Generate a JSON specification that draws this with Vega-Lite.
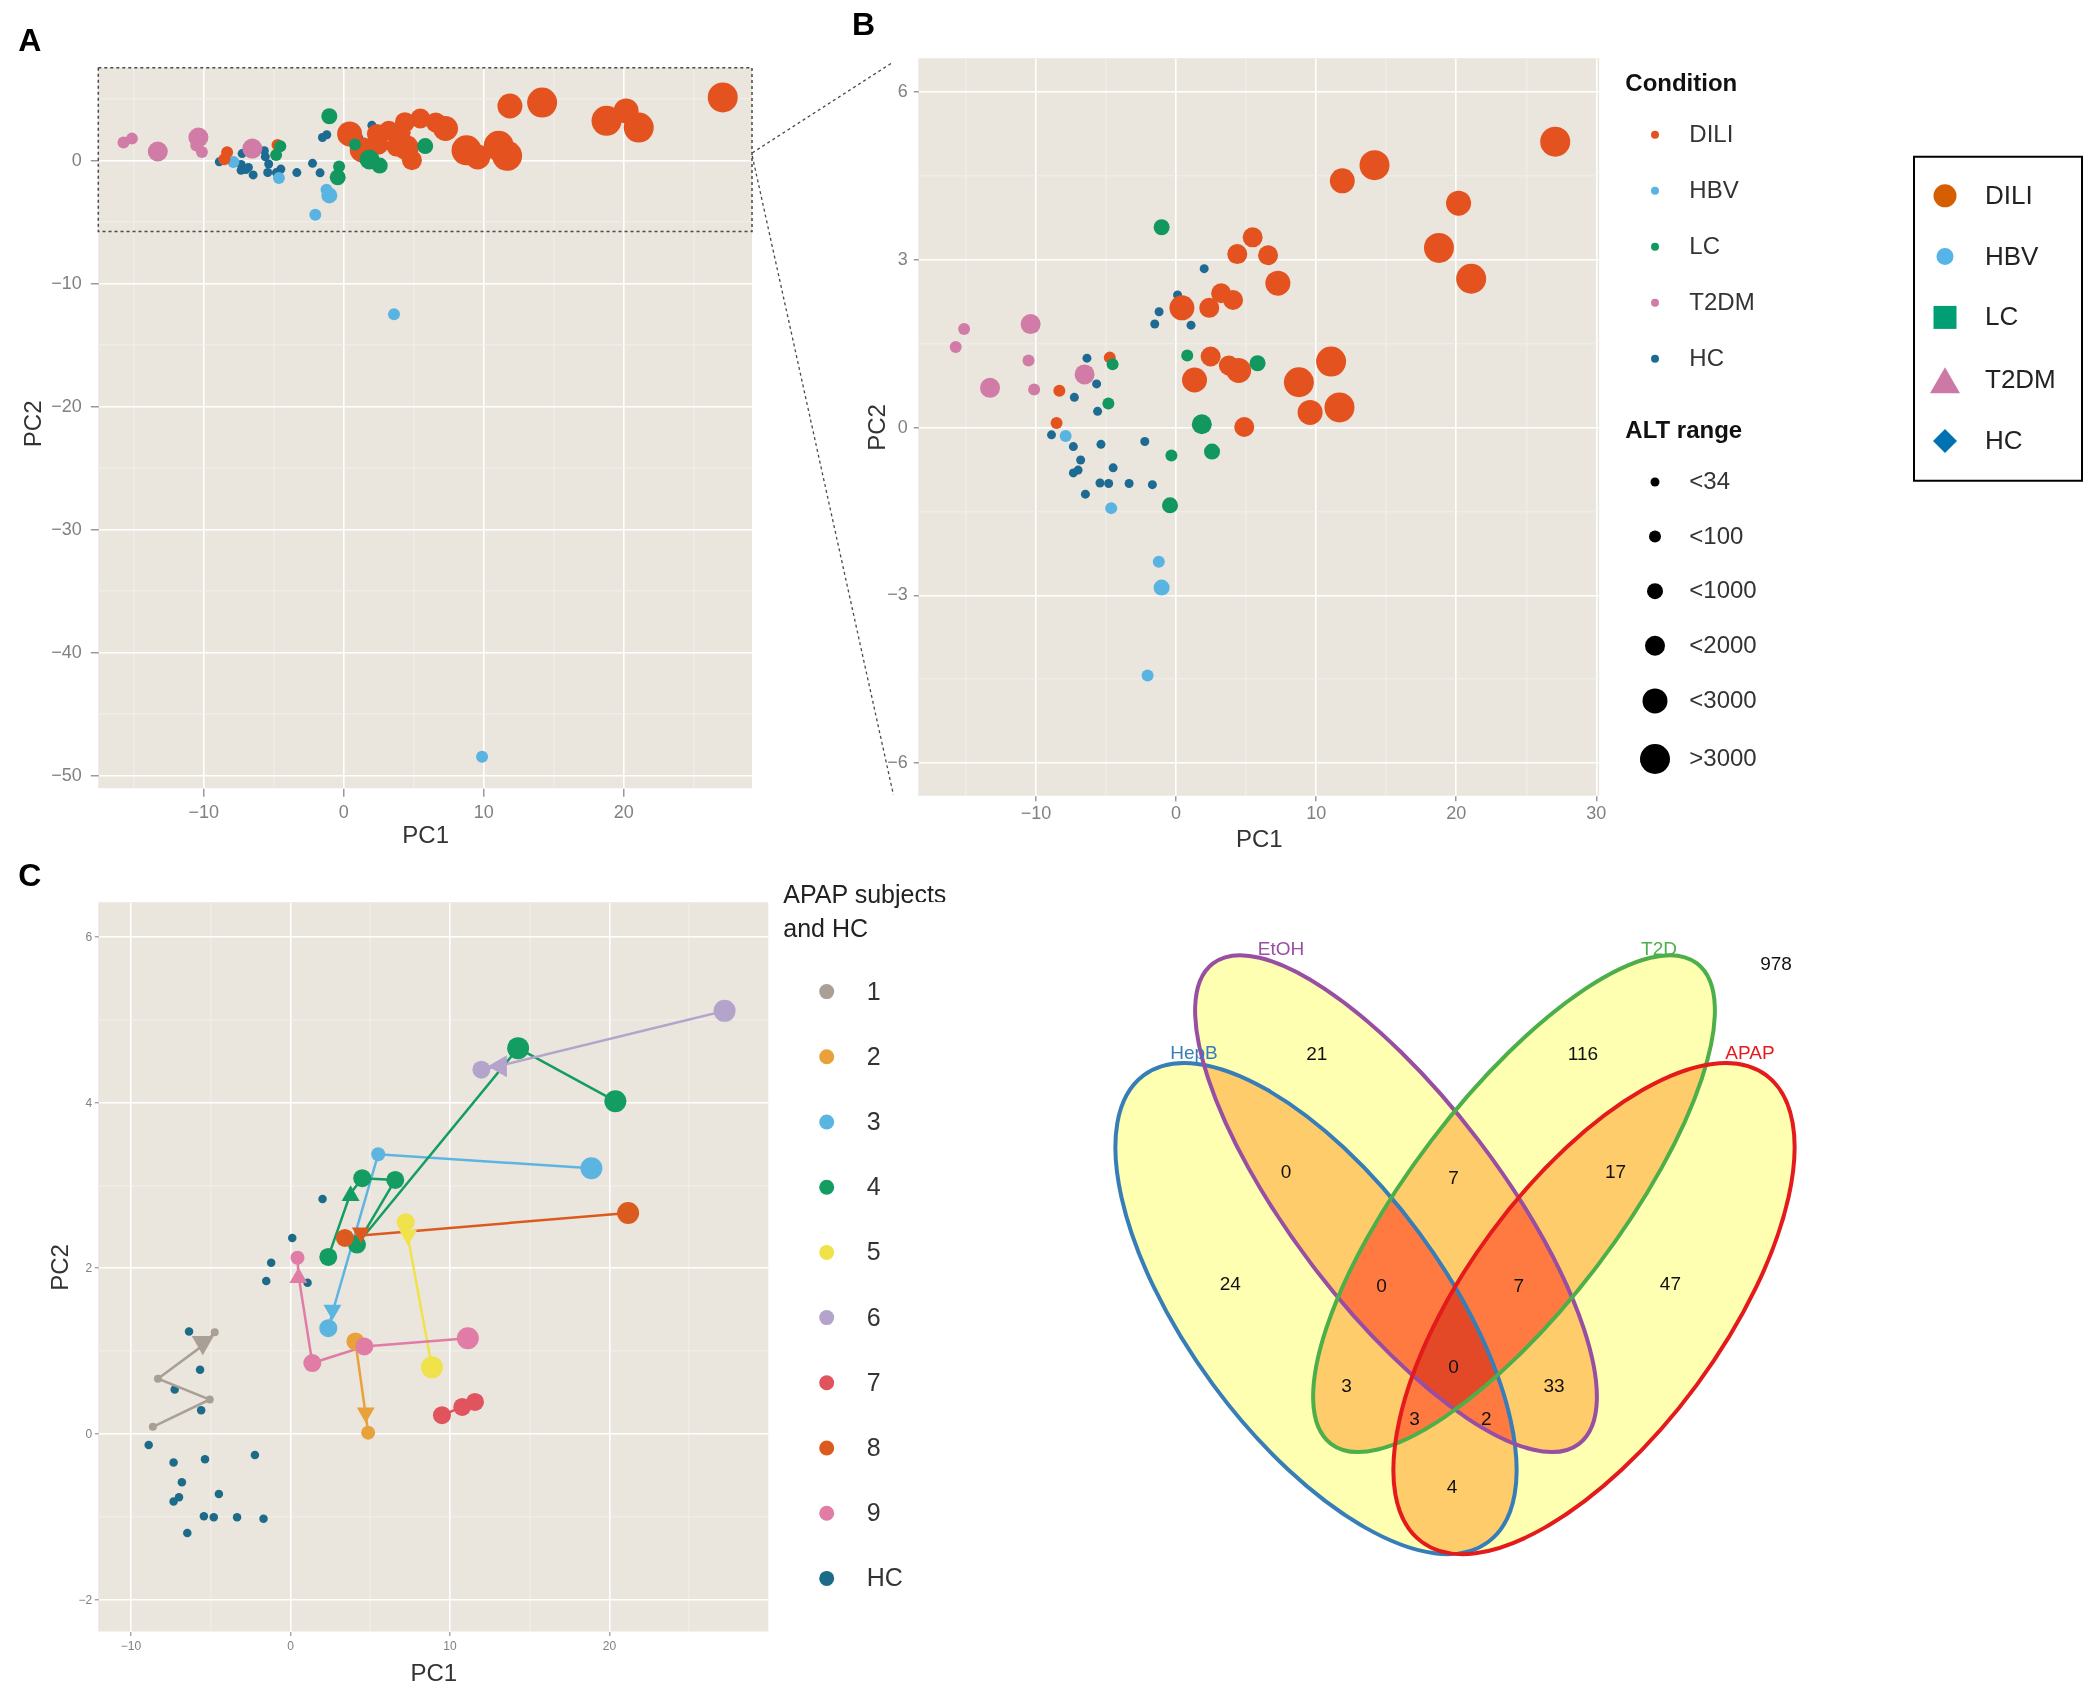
{
  "$schema": "https://vega.github.io/schema/vega-lite/v6.json",
  "autosize": {"type": "none"},
  "padding": {"left": 98.3, "top": 58.3, "right": 1984.7, "bottom": 1629.7},
  "background": "white",
  "config": {
    "font": "Liberation Sans",
    "view": {"stroke": null},
    "axis": {"domain": false, "labelColor": "#808080", "tickColor": "#808080", "titleColor": "#333333", "titleFontWeight": "normal", "labelFont": "Liberation Sans", "titleFont": "Liberation Sans", "labelOverlap": false, "labelFlush": false},
    "legend": {"labelFont": "Liberation Sans", "titleFont": "Liberation Sans", "strokeWidth": 2},
    "title": {"anchor": "start", "frame": "group", "fontSize": 32, "fontWeight": "bold", "baseline": "alphabetic", "color": "#000000", "font": "Liberation Sans"}
  },
  "datasets": {
    "pca": [
      {"x": 2.04, "y": 2.83, "Condition": "HC", "ALT": "<34"},
      {"x": 0.14, "y": 2.36, "Condition": "HC", "ALT": "<34"},
      {"x": -1.18, "y": 2.06, "Condition": "HC", "ALT": "<34"},
      {"x": -1.49, "y": 1.84, "Condition": "HC", "ALT": "<34"},
      {"x": 1.1, "y": 1.82, "Condition": "HC", "ALT": "<34"},
      {"x": -6.33, "y": 1.23, "Condition": "HC", "ALT": "<34"},
      {"x": -5.64, "y": 0.77, "Condition": "HC", "ALT": "<34"},
      {"x": -7.23, "y": 0.53, "Condition": "HC", "ALT": "<34"},
      {"x": -5.57, "y": 0.28, "Condition": "HC", "ALT": "<34"},
      {"x": -8.86, "y": -0.14, "Condition": "HC", "ALT": "<34"},
      {"x": -7.3, "y": -0.35, "Condition": "HC", "ALT": "<34"},
      {"x": -5.33, "y": -0.31, "Condition": "HC", "ALT": "<34"},
      {"x": -6.78, "y": -0.59, "Condition": "HC", "ALT": "<34"},
      {"x": -6.96, "y": -0.77, "Condition": "HC", "ALT": "<34"},
      {"x": -7.3, "y": -0.82, "Condition": "HC", "ALT": "<34"},
      {"x": -4.46, "y": -0.73, "Condition": "HC", "ALT": "<34"},
      {"x": -5.4, "y": -1.0, "Condition": "HC", "ALT": "<34"},
      {"x": -4.78, "y": -1.01, "Condition": "HC", "ALT": "<34"},
      {"x": -3.32, "y": -1.01, "Condition": "HC", "ALT": "<34"},
      {"x": -1.66, "y": -1.03, "Condition": "HC", "ALT": "<34"},
      {"x": -2.2, "y": -0.26, "Condition": "HC", "ALT": "<34"},
      {"x": -6.44, "y": -1.2, "Condition": "HC", "ALT": "<34"},
      {"x": -1.0, "y": -2.87, "Condition": "HBV", "ALT": "<1000"},
      {"x": -1.2, "y": -2.41, "Condition": "HBV", "ALT": "<100"},
      {"x": -2.0, "y": -4.44, "Condition": "HBV", "ALT": "<100"},
      {"x": -4.6, "y": -1.45, "Condition": "HBV", "ALT": "<100"},
      {"x": -7.85, "y": -0.16, "Condition": "HBV", "ALT": "<100"},
      {"x": 3.62, "y": -12.53, "Condition": "HBV", "ALT": "<100"},
      {"x": 9.91, "y": -48.5, "Condition": "HBV", "ALT": "<100"},
      {"x": -13.25, "y": 0.7, "Condition": "T2DM", "ALT": "<2000"},
      {"x": -10.35, "y": 1.84, "Condition": "T2DM", "ALT": "<2000"},
      {"x": -6.5, "y": 0.94, "Condition": "T2DM", "ALT": "<2000"},
      {"x": -15.7, "y": 1.43, "Condition": "T2DM", "ALT": "<100"},
      {"x": -15.1, "y": 1.75, "Condition": "T2DM", "ALT": "<100"},
      {"x": -10.5, "y": 1.19, "Condition": "T2DM", "ALT": "<100"},
      {"x": -10.1, "y": 0.67, "Condition": "T2DM", "ALT": "<100"},
      {"x": 27.1, "y": 5.1, "Condition": "DILI", "ALT": ">3000"},
      {"x": 14.2, "y": 4.68, "Condition": "DILI", "ALT": ">3000"},
      {"x": 11.9, "y": 4.4, "Condition": "DILI", "ALT": "<3000"},
      {"x": 20.2, "y": 4.0, "Condition": "DILI", "ALT": "<3000"},
      {"x": 18.8, "y": 3.2, "Condition": "DILI", "ALT": ">3000"},
      {"x": 21.1, "y": 2.65, "Condition": "DILI", "ALT": ">3000"},
      {"x": 5.5, "y": 3.39, "Condition": "DILI", "ALT": "<2000"},
      {"x": 4.4, "y": 3.09, "Condition": "DILI", "ALT": "<2000"},
      {"x": 6.6, "y": 3.07, "Condition": "DILI", "ALT": "<2000"},
      {"x": 7.3, "y": 2.57, "Condition": "DILI", "ALT": "<3000"},
      {"x": 3.25, "y": 2.39, "Condition": "DILI", "ALT": "<2000"},
      {"x": 4.1, "y": 2.27, "Condition": "DILI", "ALT": "<2000"},
      {"x": 2.4, "y": 2.13, "Condition": "DILI", "ALT": "<2000"},
      {"x": 0.45, "y": 2.13, "Condition": "DILI", "ALT": "<3000"},
      {"x": 2.5, "y": 1.26, "Condition": "DILI", "ALT": "<2000"},
      {"x": 3.8, "y": 1.1, "Condition": "DILI", "ALT": "<2000"},
      {"x": 4.5, "y": 1.01, "Condition": "DILI", "ALT": "<3000"},
      {"x": 1.35, "y": 0.84, "Condition": "DILI", "ALT": "<3000"},
      {"x": 8.8, "y": 0.8, "Condition": "DILI", "ALT": ">3000"},
      {"x": 11.1, "y": 1.17, "Condition": "DILI", "ALT": ">3000"},
      {"x": 9.6, "y": 0.26, "Condition": "DILI", "ALT": "<3000"},
      {"x": 11.7, "y": 0.35, "Condition": "DILI", "ALT": ">3000"},
      {"x": 4.9, "y": 0.0, "Condition": "DILI", "ALT": "<2000"},
      {"x": -8.3, "y": 0.65, "Condition": "DILI", "ALT": "<100"},
      {"x": -8.5, "y": 0.07, "Condition": "DILI", "ALT": "<100"},
      {"x": -4.7, "y": 1.24, "Condition": "DILI", "ALT": "<100"},
      {"x": -1.0, "y": 3.57, "Condition": "LC", "ALT": "<1000"},
      {"x": 0.83, "y": 1.28, "Condition": "LC", "ALT": "<100"},
      {"x": 5.85, "y": 1.14, "Condition": "LC", "ALT": "<1000"},
      {"x": 1.87, "y": 0.05, "Condition": "LC", "ALT": "<2000"},
      {"x": 2.6, "y": -0.44, "Condition": "LC", "ALT": "<1000"},
      {"x": -0.3, "y": -0.51, "Condition": "LC", "ALT": "<100"},
      {"x": -0.4, "y": -1.4, "Condition": "LC", "ALT": "<1000"},
      {"x": -4.5, "y": 1.12, "Condition": "LC", "ALT": "<100"},
      {"x": -4.8, "y": 0.42, "Condition": "LC", "ALT": "<100"}
    ],
    "apap": [
      {"Subject": "1", "seq": 1, "x": -8.6, "y": 0.08, "Sample": "a", "ALT": "<34"},
      {"Subject": "1", "seq": 2, "x": -5.03, "y": 0.41, "Sample": "a", "ALT": "<34"},
      {"Subject": "1", "seq": 3, "x": -8.28, "y": 0.66, "Sample": "a", "ALT": "<34"},
      {"Subject": "1", "seq": 4, "x": -5.47, "y": 1.06, "Sample": "b", "ALT": "<3000"},
      {"Subject": "1", "seq": 5, "x": -4.72, "y": 1.22, "Sample": "a", "ALT": "<34"},
      {"Subject": "2", "seq": 1, "x": 4.1, "y": 1.11, "Sample": "a", "ALT": "<2000"},
      {"Subject": "2", "seq": 2, "x": 4.75, "y": 0.22, "Sample": "b", "ALT": "<2000"},
      {"Subject": "2", "seq": 3, "x": 4.9, "y": 0.01, "Sample": "a", "ALT": "<1000"},
      {"Subject": "3", "seq": 1, "x": 2.4, "y": 1.27, "Sample": "a", "ALT": "<2000"},
      {"Subject": "3", "seq": 2, "x": 2.66, "y": 1.46, "Sample": "b", "ALT": "<2000"},
      {"Subject": "3", "seq": 3, "x": 5.53, "y": 3.37, "Sample": "a", "ALT": "<1000"},
      {"Subject": "3", "seq": 4, "x": 18.9, "y": 3.2, "Sample": "a", "ALT": "<3000"},
      {"Subject": "4", "seq": 1, "x": 2.4, "y": 2.13, "Sample": "a", "ALT": "<2000"},
      {"Subject": "4", "seq": 2, "x": 3.8, "y": 2.9, "Sample": "c", "ALT": "<2000"},
      {"Subject": "4", "seq": 3, "x": 4.53, "y": 3.08, "Sample": "a", "ALT": "<2000"},
      {"Subject": "4", "seq": 4, "x": 6.6, "y": 3.06, "Sample": "a", "ALT": "<2000"},
      {"Subject": "4", "seq": 5, "x": 4.2, "y": 2.28, "Sample": "a", "ALT": "<2000"},
      {"Subject": "4", "seq": 6, "x": 14.3, "y": 4.65, "Sample": "a", "ALT": "<3000"},
      {"Subject": "4", "seq": 7, "x": 20.4, "y": 4.01, "Sample": "a", "ALT": "<3000"},
      {"Subject": "5", "seq": 1, "x": 7.25, "y": 2.55, "Sample": "a", "ALT": "<2000"},
      {"Subject": "5", "seq": 2, "x": 7.4, "y": 2.36, "Sample": "b", "ALT": "<2000"},
      {"Subject": "5", "seq": 3, "x": 8.9, "y": 0.8, "Sample": "a", "ALT": "<3000"},
      {"Subject": "6", "seq": 1, "x": 12.0, "y": 4.39, "Sample": "a", "ALT": "<2000"},
      {"Subject": "6", "seq": 2, "x": 13.0, "y": 4.43, "Sample": "d", "ALT": "<3000"},
      {"Subject": "6", "seq": 3, "x": 27.25, "y": 5.1, "Sample": "a", "ALT": "<3000"},
      {"Subject": "7", "seq": 1, "x": 9.53, "y": 0.22, "Sample": "a", "ALT": "<2000"},
      {"Subject": "7", "seq": 2, "x": 10.8, "y": 0.32, "Sample": "a", "ALT": "<2000"},
      {"Subject": "7", "seq": 3, "x": 11.6, "y": 0.38, "Sample": "a", "ALT": "<2000"},
      {"Subject": "8", "seq": 1, "x": 3.44, "y": 2.36, "Sample": "a", "ALT": "<2000"},
      {"Subject": "8", "seq": 2, "x": 4.44, "y": 2.39, "Sample": "b", "ALT": "<2000"},
      {"Subject": "8", "seq": 3, "x": 21.2, "y": 2.66, "Sample": "a", "ALT": "<3000"},
      {"Subject": "9", "seq": 1, "x": 0.47, "y": 2.12, "Sample": "a", "ALT": "<1000"},
      {"Subject": "9", "seq": 2, "x": 0.53, "y": 1.91, "Sample": "c", "ALT": "<2000"},
      {"Subject": "9", "seq": 3, "x": 1.4, "y": 0.85, "Sample": "a", "ALT": "<2000"},
      {"Subject": "9", "seq": 4, "x": 4.66, "y": 1.05, "Sample": "a", "ALT": "<2000"},
      {"Subject": "9", "seq": 5, "x": 11.15, "y": 1.15, "Sample": "a", "ALT": "<3000"}
    ],
    "venn": [
      {"set": "HepB", "u": 397.7, "v": 406.3},
      {"set": "EtOH", "u": 477.7, "v": 301.3},
      {"set": "T2D", "u": 595.7, "v": 301.3},
      {"set": "APAP", "u": 675.7, "v": 406.3}
    ],
    "vennLabels": [
      {"set": "EtOH", "u": 362.7, "v": 46.3},
      {"set": "T2D", "u": 740.7, "v": 46.3},
      {"set": "HepB", "u": 275.7, "v": 150.9},
      {"set": "APAP", "u": 831.7, "v": 150.9}
    ],
    "vennCounts": [
      {"n": "978", "u": 857.7, "v": 61.3},
      {"n": "21", "u": 398.4, "v": 151.6},
      {"n": "116", "u": 664.7, "v": 151.6},
      {"n": "0", "u": 367.7, "v": 269.3},
      {"n": "7", "u": 535.3, "v": 275.8},
      {"n": "17", "u": 697.3, "v": 269.3},
      {"n": "24", "u": 312.0, "v": 382.1},
      {"n": "0", "u": 463.2, "v": 383.3},
      {"n": "7", "u": 600.4, "v": 383.3},
      {"n": "47", "u": 752.1, "v": 382.1},
      {"n": "0", "u": 535.3, "v": 464.3},
      {"n": "3", "u": 428.3, "v": 484.0},
      {"n": "33", "u": 635.7, "v": 484.0},
      {"n": "3", "u": 496.2, "v": 516.5},
      {"n": "2", "u": 567.9, "v": 516.5},
      {"n": "4", "u": 533.7, "v": 585.0}
    ]
  },
  "columns": 2,
  "align": "each",
  "bounds": "flush",
  "spacing": {"row": 106, "column": 150},
  "resolve": {
    "scale": {"color": "independent", "size": "independent", "shape": "independent", "fill": "independent", "stroke": "independent"},
    "legend": {"color": "independent", "size": "independent", "shape": "independent", "fill": "independent", "stroke": "independent"}
  },
  "concat": [
    {
      "width": 653.7,
      "height": 730,
      "view": {"fill": "#EAE6DE", "stroke": null},
      "title": {"text": "A", "dx": -80, "offset": 0.5},
      "layer": [
        {
          "data": {"name": "pca"},
          "mark": {"type": "circle", "opacity": 1, "strokeWidth": 0},
          "encoding": {
            "x": {"field": "x", "type": "quantitative", "scale": {"domain": [-17.5, 29.19], "nice": false, "zero": false},
              "axis": {"title": "PC1", "values": [-15, -10, -5, 0, 5, 10, 15, 20, 25], "labelExpr": "datum.value % 10 === 0 ? datum.label : ''",
                "gridColor": {"condition": {"test": "datum.value % 10 === 0", "value": "#FFFFFF"}, "value": "#F4F2EE"},
                "gridWidth": {"condition": {"test": "datum.value % 10 === 0", "value": 1.6}, "value": 0.9},
                "tickColor": {"condition": {"test": "datum.value % 10 === 0", "value": "#808080"}, "value": "rgba(0,0,0,0)"},
                "tickSize": 8, "tickWidth": 1.2, "labelPadding": 7, "labelFontSize": 18, "titleFontSize": 24, "titlePadding": 2}},
            "y": {"field": "y", "type": "quantitative", "scale": {"domain": [-51.07, 8.28], "nice": false, "zero": false},
              "axis": {"title": "PC2", "values": [-50, -45, -40, -35, -30, -25, -20, -15, -10, -5, 0, 5], "labelExpr": "datum.value % 10 === 0 ? datum.label : ''",
                "gridColor": {"condition": {"test": "datum.value % 10 === 0", "value": "#FFFFFF"}, "value": "#F4F2EE"},
                "gridWidth": {"condition": {"test": "datum.value % 10 === 0", "value": 1.6}, "value": 0.9},
                "tickColor": {"condition": {"test": "datum.value % 10 === 0", "value": "#808080"}, "value": "rgba(0,0,0,0)"},
                "tickSize": 8, "tickWidth": 1.2, "labelPadding": 9, "labelFontSize": 18, "titleFontSize": 24, "titlePadding": 5}},
            "color": {"field": "Condition", "type": "nominal", "scale": {"domain": ["DILI", "HBV", "LC", "T2DM", "HC"], "range": ["#E4531F", "#5AB4E1", "#12975F", "#D07CA6", "#1D6A92"]}, "legend": null},
            "size": {"field": "ALT", "type": "ordinal", "scale": {"type": "ordinal", "domain": ["<34", "<100", "<1000", "<2000", "<3000", ">3000"], "range": [81, 144, 256, 400, 625, 900]}, "legend": null}
          }
        },
        {
          "data": {"values": [{}]},
          "mark": {"type": "rect", "color": "white"},
          "encoding": {
            "x": {"datum": -17.6, "type": "quantitative"},
            "x2": {"datum": 29.3},
            "y": {"datum": 7.52, "type": "quantitative"},
            "y2": {"datum": 8.3}
          }
        },
        {
          "data": {"values": [{"x1": -17.5, "x2": 29.19, "y1": -5.8, "y2": 7.52}]},
          "mark": {"type": "rect", "fillOpacity": 0, "stroke": "#4A4A4A", "strokeWidth": 1.5, "strokeDash": [3, 3]},
          "encoding": {
            "x": {"field": "x1", "type": "quantitative"},
            "x2": {"field": "x2"},
            "y": {"field": "y1", "type": "quantitative"},
            "y2": {"field": "y2"}
          }
        },
        {
          "data": {"values": [{"x1": 29.21, "y1": 0.59, "x2": 39.29, "y2": 7.98}, {"x1": 29.21, "y1": 0.34, "x2": 39.29, "y2": -51.6}]},
          "mark": {"type": "rule", "color": "#4A4A4A", "strokeWidth": 1.3, "strokeDash": [3, 3], "clip": false},
          "encoding": {
            "x": {"field": "x1", "type": "quantitative"},
            "x2": {"field": "x2"},
            "y": {"field": "y1", "type": "quantitative"},
            "y2": {"field": "y2"}
          }
        }
      ]
    },
    {
      "width": 680.9,
      "height": 737.4,
      "view": {"fill": "#EAE6DE", "stroke": null},
      "title": {"text": "B", "dx": -66.3, "offset": 16.8},
      "resolve": {
        "scale": {"color": "independent", "size": "independent", "shape": "independent", "fill": "independent"},
        "legend": {"color": "independent", "size": "independent", "shape": "independent", "fill": "independent"}
      },
      "layer": [
        {
          "data": {"name": "pca"},
          "mark": {"type": "circle", "opacity": 1, "strokeWidth": 0, "clip": true},
          "encoding": {
            "x": {"field": "x", "type": "quantitative", "scale": {"domain": [-18.37, 30.24], "nice": false, "zero": false},
              "axis": {"title": "PC1", "values": [-15, -10, -5, 0, 5, 10, 15, 20, 25, 30], "labelExpr": "datum.value % 10 === 0 ? datum.label : ''",
                "gridColor": {"condition": {"test": "datum.value % 10 === 0", "value": "#FFFFFF"}, "value": "#F4F2EE"},
                "gridWidth": {"condition": {"test": "datum.value % 10 === 0", "value": 1.6}, "value": 0.9},
                "tickColor": {"condition": {"test": "datum.value % 10 === 0", "value": "#808080"}, "value": "rgba(0,0,0,0)"},
                "tickSize": 5, "tickWidth": 1.2, "labelPadding": 4, "labelFontSize": 18, "titleFontSize": 24, "titlePadding": 5}},
            "y": {"field": "y", "type": "quantitative", "scale": {"domain": [-6.59, 6.59], "nice": false, "zero": false},
              "axis": {"title": "PC2", "values": [-6, -4.5, -3, -1.5, 0, 1.5, 3, 4.5, 6], "labelExpr": "datum.value % 3 === 0 ? datum.label : ''",
                "gridColor": {"condition": {"test": "datum.value % 3 === 0", "value": "#FFFFFF"}, "value": "#F4F2EE"},
                "gridWidth": {"condition": {"test": "datum.value % 3 === 0", "value": 1.6}, "value": 0.9},
                "tickColor": {"condition": {"test": "datum.value % 3 === 0", "value": "#808080"}, "value": "rgba(0,0,0,0)"},
                "tickSize": 5, "tickWidth": 1.2, "labelPadding": 6, "labelFontSize": 18, "titleFontSize": 24, "titlePadding": -3}},
            "color": {"field": "Condition", "type": "nominal", "scale": {"domain": ["DILI", "HBV", "LC", "T2DM", "HC"], "range": ["#E4531F", "#5AB4E1", "#12975F", "#D07CA6", "#1D6A92"]},
              "legend": {"title": "Condition", "orient": "none", "legendX": 707, "legendY": 13.5, "padding": 0, "symbolType": "circle", "symbolSize": 64, "symbolStrokeWidth": 0,
                "titleFontSize": 24, "titleFontWeight": "bold", "titleColor": "#111111", "titlePadding": 27, "labelFontSize": 24, "labelColor": "#333333",
                "rowPadding": 32, "symbolOffset": 17.7, "labelOffset": 22.3}},
            "size": {"field": "ALT", "type": "ordinal", "scale": {"type": "ordinal", "domain": ["<34", "<100", "<1000", "<2000", "<3000", ">3000"], "range": [81, 144, 256, 400, 625, 900]},
              "legend": {"title": "ALT range", "orient": "none", "legendX": 707, "legendY": 360.7, "padding": 0, "symbolType": "circle", "symbolFillColor": "#000000", "symbolStrokeWidth": 0,
                "titleFontSize": 24, "titleFontWeight": "bold", "titleColor": "#111111", "titlePadding": 27, "labelFontSize": 24, "labelColor": "#333333",
                "rowPadding": 30.6, "symbolOffset": 14.7, "labelOffset": 19.3}}
          }
        },
        {
          "data": {"values": []},
          "mark": {"type": "point", "filled": true, "opacity": 1},
          "encoding": {
            "fill": {"field": "Group", "type": "nominal", "scale": {"domain": ["DILI", "HBV", "LC", "T2DM", "HC"], "range": ["#D55E00", "#56B4E9", "#009E73", "#CC79A7", "#0072B2"]},
              "legend": {"title": null, "orient": "none", "legendX": 995.7, "legendY": 98.5, "padding": 26, "strokeColor": "#000000", "symbolStrokeWidth": 0,
                "labelFontSize": 26, "labelColor": "#222222", "rowPadding": 34.8, "symbolOffset": -10, "labelOffset": 25}},
            "shape": {"field": "Group", "type": "nominal", "scale": {"domain": ["DILI", "HBV", "LC", "T2DM", "HC"], "range": ["circle", "circle", "square", "triangle-up", "diamond"]}},
            "size": {"field": "Group", "type": "nominal", "scale": {"type": "ordinal", "domain": ["DILI", "HBV", "LC", "T2DM", "HC"], "range": [529, 289, 529, 900, 576]}}
          }
        }
      ]
    },
    {
      "width": 670,
      "height": 729.2,
      "view": {"fill": "#EAE6DE", "stroke": null},
      "title": {"text": "C", "dx": -80, "offset": -9.7},
      "layer": [
        {
          "data": {"name": "pca"},
          "transform": [{"filter": "datum.Condition === 'HC'"}],
          "mark": {"type": "circle", "opacity": 1, "size": 72, "color": "#1C6B88"},
          "encoding": {
            "x": {"field": "x", "type": "quantitative", "scale": {"domain": [-12.02, 29.99], "nice": false, "zero": false},
              "axis": {"title": "PC1", "values": [-10, -5, 0, 5, 10, 15, 20, 25], "format": "d", "labelExpr": "datum.value % 10 === 0 ? datum.label : ''",
                "gridColor": {"condition": {"test": "datum.value % 10 === 0", "value": "#FFFFFF"}, "value": "#F4F2EE"},
                "gridWidth": {"condition": {"test": "datum.value % 10 === 0", "value": 1.5}, "value": 0.8},
                "tickColor": {"condition": {"test": "datum.value % 10 === 0", "value": "#808080"}, "value": "rgba(0,0,0,0)"},
                "tickSize": 4, "tickWidth": 1, "labelPadding": 5, "labelFontSize": 12, "titleFontSize": 24, "titlePadding": 10}},
            "y": {"field": "y", "type": "quantitative", "scale": {"domain": [-2.39, 6.41], "nice": false, "zero": false},
              "axis": {"title": "PC2", "values": [-2, -1, 0, 1, 2, 3, 4, 5, 6], "format": "d", "labelExpr": "datum.value % 2 === 0 ? datum.label : ''",
                "gridColor": {"condition": {"test": "datum.value % 2 === 0", "value": "#FFFFFF"}, "value": "#F4F2EE"},
                "gridWidth": {"condition": {"test": "datum.value % 2 === 0", "value": 1.5}, "value": 0.8},
                "tickColor": {"condition": {"test": "datum.value % 2 === 0", "value": "#808080"}, "value": "rgba(0,0,0,0)"},
                "tickSize": 4, "tickWidth": 1, "labelPadding": 2.5, "labelFontSize": 12, "titleFontSize": 24, "titlePadding": 6}}
          }
        },
        {
          "data": {"name": "apap"},
          "mark": {"type": "line", "strokeWidth": 2.5, "opacity": 1},
          "encoding": {
            "x": {"field": "x", "type": "quantitative"},
            "y": {"field": "y", "type": "quantitative"},
            "order": {"field": "seq", "type": "quantitative"},
            "stroke": {"field": "Subject", "type": "nominal", "legend": null,
              "scale": {"domain": ["1", "2", "3", "4", "5", "6", "7", "8", "9"], "range": ["#A99F95", "#E9A23B", "#5CB5E1", "#139D62", "#EFE24A", "#B4A4CB", "#E1545D", "#DB5B1F", "#E07CA6"]}}
          }
        },
        {
          "data": {"name": "apap"},
          "mark": {"type": "point", "filled": true, "opacity": 1, "strokeWidth": 0},
          "encoding": {
            "x": {"field": "x", "type": "quantitative"},
            "y": {"field": "y", "type": "quantitative"},
            "color": {"field": "Subject", "type": "nominal",
              "scale": {"domain": ["1", "2", "3", "4", "5", "6", "7", "8", "9", "HC"], "range": ["#A99F95", "#E9A23B", "#5CB5E1", "#139D62", "#EFE24A", "#B4A4CB", "#E1545D", "#DB5B1F", "#E07CA6", "#1C6B88"]},
              "legend": {"title": ["APAP subjects", "and HC"], "orient": "none", "legendX": 685, "legendY": -19.2, "padding": 0, "symbolType": "circle", "symbolSize": 225, "symbolStrokeWidth": 0,
                "titleFontSize": 25, "titleFontWeight": "normal", "titleColor": "#222222", "titleLineHeight": 34, "titlePadding": 37, "labelFontSize": 25, "labelColor": "#333333",
                "rowPadding": 39.2, "symbolOffset": 30.9, "labelOffset": 27.5}},
            "shape": {"field": "Sample", "type": "nominal", "scale": {"domain": ["a", "b", "c", "d"], "range": ["circle", "triangle-down", "triangle-up", "triangle-left"]}, "legend": null},
            "size": {"field": "ALT", "type": "ordinal", "scale": {"type": "ordinal", "domain": ["<34", "<100", "<1000", "<2000", "<3000", ">3000"], "range": [64, 100, 196, 324, 484, 676]}, "legend": null}
          }
        }
      ]
    },
    {
      "width": 900,
      "height": 700,
      "view": {"fill": null, "stroke": null},
      "layer": [
        {
          "data": {"values": [{}]},
          "mark": {"type": "rect", "color": "#FFFFFF"},
          "encoding": {
            "x": {"datum": 0, "type": "quantitative", "scale": {"domain": [0, 900], "nice": false, "zero": false}, "axis": null},
            "x2": {"datum": 900},
            "y": {"datum": 0, "type": "quantitative", "scale": {"domain": [0, 700], "nice": false, "zero": false, "reverse": true}, "axis": null},
            "y2": {"datum": 700}
          }
        },
        {
          "data": {"name": "venn"},
          "mark": {"type": "point", "filled": true, "color": "#000000", "opacity": 0.4, "size": 40000, "strokeWidth": 0},
          "encoding": {
            "x": {"field": "u", "type": "quantitative", "axis": null},
            "y": {"field": "v", "type": "quantitative", "axis": null},
            "shape": {"field": "set", "type": "nominal", "legend": null,
              "scale": {"domain": ["HepB", "EtOH", "T2D", "APAP"], "range": [
                "M1.721,2.334 C1.152,2.754 -0.080,2.049 -1.030,0.760 C-1.981,-0.530 -2.290,-1.915 -1.721,-2.334 C-1.152,-2.754 0.080,-2.049 1.030,-0.760 C1.981,0.530 2.290,1.915 1.721,2.334 Z",
                "M1.830,2.402 C1.373,2.751 0.184,1.957 -0.827,0.630 C-1.838,-0.697 -2.287,-2.054 -1.830,-2.402 C-1.373,-2.751 -0.184,-1.957 0.827,-0.630 C1.838,0.697 2.287,2.054 1.830,2.402 Z",
                "M-1.830,2.402 C-1.373,2.751 -0.184,1.957 0.827,0.630 C1.838,-0.697 2.287,-2.054 1.830,-2.402 C1.373,-2.751 0.184,-1.957 -0.827,-0.630 C-1.838,0.697 -2.287,2.054 -1.830,2.402 Z",
                "M-1.721,2.334 C-1.152,2.754 0.080,2.049 1.030,0.760 C1.981,-0.530 2.290,-1.915 1.721,-2.334 C1.152,-2.754 -0.080,-2.049 -1.030,-0.760 C-1.981,0.530 -2.290,1.915 -1.721,2.334 Z"
              ]}}
          }
        },
        {
          "data": {"values": [{}]},
          "mark": {"type": "rect", "color": "#DA8C24", "blend": "color-dodge"},
          "encoding": {
            "x": {"datum": 0, "type": "quantitative", "axis": null},
            "x2": {"datum": 900},
            "y": {"datum": 0, "type": "quantitative", "axis": null},
            "y2": {"datum": 700}
          }
        },
        {
          "data": {"name": "venn"},
          "mark": {"type": "point", "filled": false, "opacity": 1, "size": 40000, "strokeWidth": 4},
          "encoding": {
            "x": {"field": "u", "type": "quantitative", "axis": null},
            "y": {"field": "v", "type": "quantitative", "axis": null},
            "shape": {"field": "set", "type": "nominal", "legend": null},
            "stroke": {"field": "set", "type": "nominal", "legend": null, "scale": {"domain": ["HepB", "EtOH", "T2D", "APAP"], "range": ["#377EB8", "#984EA3", "#4DAF4A", "#E41A1C"]}}
          }
        },
        {
          "data": {"name": "vennLabels"},
          "mark": {"type": "text", "fontSize": 19, "align": "center", "baseline": "middle"},
          "encoding": {
            "x": {"field": "u", "type": "quantitative", "axis": null},
            "y": {"field": "v", "type": "quantitative", "axis": null},
            "text": {"field": "set"},
            "color": {"field": "set", "type": "nominal", "legend": null, "scale": {"domain": ["HepB", "EtOH", "T2D", "APAP"], "range": ["#377EB8", "#984EA3", "#4DAF4A", "#E41A1C"]}}
          }
        },
        {
          "data": {"name": "vennCounts"},
          "mark": {"type": "text", "fontSize": 19, "align": "center", "baseline": "middle", "color": "#111111"},
          "encoding": {
            "x": {"field": "u", "type": "quantitative", "axis": null},
            "y": {"field": "v", "type": "quantitative", "axis": null},
            "text": {"field": "n"}
          }
        }
      ]
    }
  ]
}
